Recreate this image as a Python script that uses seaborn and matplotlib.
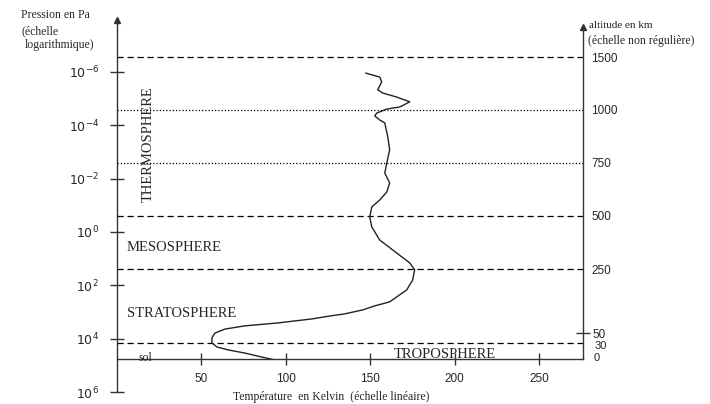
import numpy as np
import pandas as pd
import matplotlib
matplotlib.use("Agg")
import matplotlib.pyplot as plt
import seaborn as sns

# ---- data ----
# temperature profile (K) vs log10 of pressure (Pa)
temp_k = [147.3, 155.6, 156.8, 154.4, 157.4, 165.7, 173.4, 167.5, 159.8, 153.8,
          152.7, 155.6, 158.6, 160.4, 161.5, 159.8, 158.6, 161.5, 159.8, 155.6,
          150.9, 149.7, 150.9, 155.6, 165.7, 173.4, 176.3, 175.1, 171.6, 161.5,
          152.7, 145.6, 134.9, 126.0, 115.4, 95.3, 75.7, 63.9, 58.0, 56.2,
          56.2, 59.2, 65.7, 75.7, 85.8, 92.3]
log_p = [-5.96, -5.81, -5.63, -5.33, -5.21, -5.06, -4.88, -4.69, -4.61, -4.46,
         -4.35, -4.20, -4.09, -3.56, -3.08, -2.59, -2.21, -1.84, -1.50, -1.20,
         -0.94, -0.56, -0.19, 0.30, 0.79, 1.16, 1.42, 1.80, 2.17, 2.62,
         2.77, 2.92, 3.07, 3.15, 3.26, 3.41, 3.52, 3.64, 3.79, 3.97,
         4.16, 4.31, 4.42, 4.54, 4.69, 4.78]

# layer boundaries (log10 P) and their style
bound_logp = [-6.56, -4.58, -2.59, -0.60, 1.39, 4.18]
bound_style = ['dashed', 'dotted', 'dotted', 'dashed', 'dashed', 'dashed']

# left axis: pressure decades
p_ticks = [-6, -4, -2, 0, 2, 4, 6]
p_labels = [r'$10^{%d}$' % v for v in p_ticks]

# bottom axis: temperature
t_ticks = [50, 100, 150, 200, 250]

# right axis: altitude (km), irregular scale
alt_pos = [-6.56, -4.58, -2.59, -0.60, 1.39]
alt_labels = ['1500', '1000', '750', '500', '250']
alt50_pos = 3.80
alt_low_pos = [4.28, 4.74]
alt_low_labels = ['30', '0']

ground = 4.78

df = pd.DataFrame({'T': temp_k, 'logP': log_p})

sns.set_theme(style='white')
plt.rcParams['font.family'] = ['Liberation Sans', 'DejaVu Sans']

fig = plt.figure(figsize=(7.1, 4.04), dpi=100)
ax = fig.add_axes([117 / 710, 12 / 404, 466 / 710, 372 / 404])

sns.lineplot(data=df, x='T', y='logP', sort=False, estimator=None,
             color='#222222', linewidth=1.0, ax=ax)

dash = {'dashed': (0, (5, 3)), 'dotted': (0, (1, 1.6))}
for yv, st in zip(bound_logp, bound_style):
    ax.axhline(yv, color='black', linewidth=0.9, linestyle=dash[st], zorder=1)

ax.set_xlim(0, 276)
ax.set_ylim(6, -7.95)

# spines
for s in ['left', 'right', 'bottom']:
    ax.spines[s].set_visible(True)
    ax.spines[s].set_color('#333333')
    ax.spines[s].set_linewidth(1.0)
ax.spines['top'].set_visible(False)
ax.spines['bottom'].set_position(('data', ground))
ax.spines['right'].set_bounds(-7.7, ground)

ax.set_yticks(p_ticks, p_labels)
ax.set_xticks(t_ticks)
ax.tick_params(axis='y', which='major', direction='inout', length=10, width=1,
               pad=8, labelsize=9, color='#333333', left=True)
ax.tick_params(axis='x', which='major', direction='inout', length=9, width=1,
               pad=5, labelsize=8.5, color='#333333', bottom=True)
ax.set_xlabel('')
ax.set_ylabel('')

# arrows at the top of both vertical axes
ax.plot([0], [-7.95], marker='^', color='#333333', markersize=5,
        clip_on=False, zorder=5)
ax.plot([276], [-7.7], marker='^', color='#333333', markersize=4,
        clip_on=False, zorder=5)

# right axis (altitude)
ax2 = ax.twinx()
ax2.set_ylim(ax.get_ylim())
for s in ax2.spines.values():
    s.set_visible(False)
ax2.grid(False)
ax2.set_yticks(alt_pos, alt_labels)
ax2.set_yticks([alt50_pos], ['50'], minor=True)
ax2.tick_params(axis='y', which='major', length=0, pad=6, labelsize=8.5, right=True)
ax2.tick_params(axis='y', which='minor', direction='inout', length=10, width=1,
                pad=2, labelsize=8.5, right=True, color='#333333')
# the two crowded labels near the ground
for yv, lab in zip(alt_low_pos, alt_low_labels):
    ax.annotate(lab, xy=(1, yv), xycoords=('axes fraction', 'data'),
                xytext=(8, 0), textcoords='offset points',
                ha='left', va='center', fontsize=8, color='#262626')

# layer names
serif = ['Liberation Serif', 'DejaVu Serif']
ax.text(18.3, -3.3, 'THERMOSPHERE', rotation=90, ha='center', va='center',
        fontsize=10.5, family=serif)
ax.text(5.9, 0.6, 'MESOSPHERE', ha='left', va='center', fontsize=10.5, family=serif)
ax.text(5.9, 3.04, 'STRATOSPHERE', ha='left', va='center', fontsize=10.5, family=serif)
ax.text(194, 4.71, 'TROPOSPHERE', ha='center', va='baseline', fontsize=10.5, family=serif)
ax.text(16.6, 4.72, 'sol', ha='center', va='center', fontsize=8.5, family=serif)

# axis captions
fig.text(21 / 710, 1 - 15 / 404, 'Pression en Pa', ha='left', va='center',
         fontsize=8.5, family=serif)
fig.text(21 / 710, 1 - 31 / 404, '(échelle', ha='left', va='center',
         fontsize=8.5, family=serif)
fig.text(25 / 710, 1 - 45 / 404, 'logarithmique)', ha='left', va='center',
         fontsize=8.5, family=serif)
fig.text(589 / 710, 1 - 25 / 404, 'altitude en km', ha='left', va='center',
         fontsize=8, family=serif)
fig.text(588 / 710, 1 - 41 / 404, '(échelle non régulière)', ha='left', va='center',
         fontsize=8.5, family=serif)
fig.text(233 / 710, 1 - 397 / 404, 'Température  en Kelvin  (échelle linéaire)',
         ha='left', va='center', fontsize=8.5, family=serif)

fig.savefig('out.png', dpi=100)
